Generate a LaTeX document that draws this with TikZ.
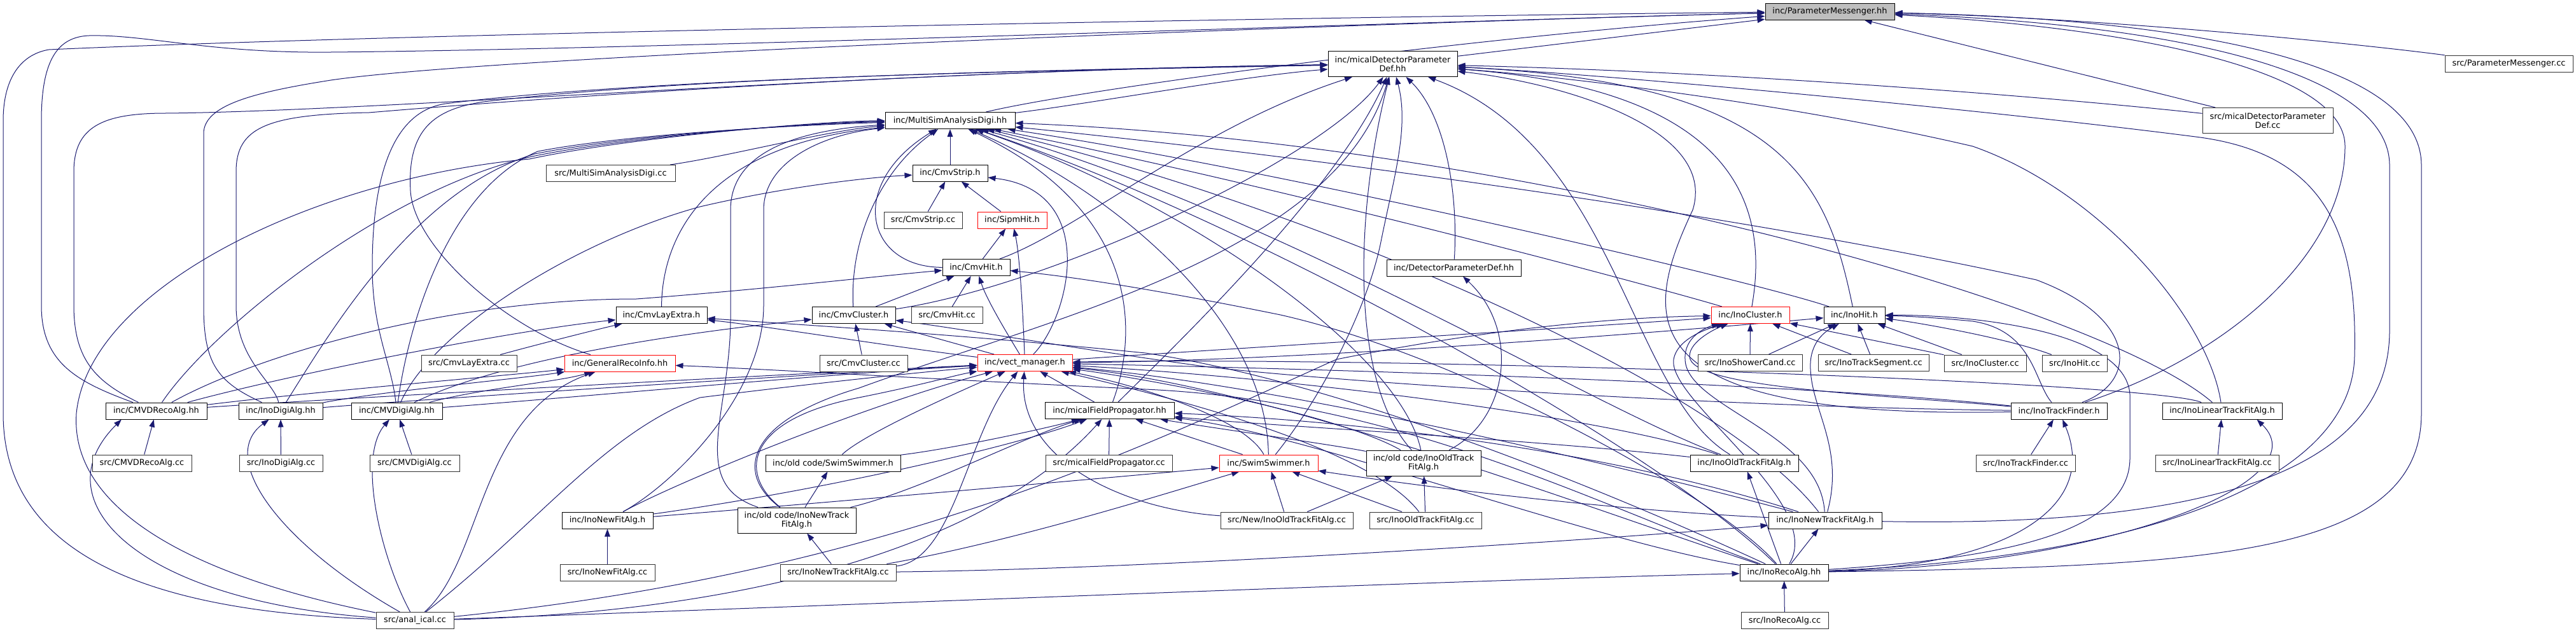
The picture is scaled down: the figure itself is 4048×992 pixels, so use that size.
\documentclass[tikz,border=0pt]{standalone}
\usepackage{fontspec}
\setmainfont{DejaVu Sans}
\usetikzlibrary{arrows.meta}
\definecolor{edgeblue}{RGB}{25,25,112}
\definecolor{srcgray}{RGB}{50,50,50}
\definecolor{pmfill}{RGB}{191,191,191}
\pgfdeclarelayer{bg}
\pgfsetlayers{bg,main}
\tikzset{
  nbox/.style={draw=black, line width=0.75pt, fill=white, inner sep=0pt, minimum height=19.5pt, align=center, font=\fontsize{9.7}{10.8}\selectfont, text=black},
  sbox/.style={nbox, draw=srcgray},
  rbox/.style={nbox, draw=red},
  tall/.style={minimum height=30pt},
  bw/.style={minimum width=#1*0.75pt},
  dep/.style={draw=edgeblue, line width=0.75pt, -{Triangle[length=9pt,width=6.5pt]}},
}
\begin{document}
\begin{tikzpicture}[x=0.75pt,y=-0.75pt]
\useasboundingbox (0,0) rectangle (4048,992);
% ---------------- nodes ----------------
\node[nbox,fill=pmfill,bw=203] (PM) at (2875.5,18) {inc/ParameterMessenger.hh};
\node[nbox,tall,bw=203] (MDPD) at (2188.5,100.5) {inc/micalDetectorParameter\\Def.hh};
\node[sbox,bw=201] (PMcc) at (3942.5,100) {src/ParameterMessenger.cc};
\node[sbox,tall,bw=205] (MDPDcc) at (3563.5,189.5) {src/micalDetectorParameter\\Def.cc};
\node[nbox,bw=204] (MSAD) at (1493,189.5) {inc/MultiSimAnalysisDigi.hh};
\node[sbox,bw=203] (MSADcc) at (959.5,272.5) {src/MultiSimAnalysisDigi.cc};
\node[nbox,bw=118] (CS) at (1493,272) {inc/CmvStrip.h};
\node[sbox,bw=123] (CScc) at (1450.5,346) {src/CmvStrip.cc};
\node[rbox,bw=109] (SH) at (1590.5,346) {inc/SipmHit.h};
\node[nbox,bw=106] (CH) at (1534,420.5) {inc/CmvHit.h};
\node[nbox,bw=211] (DPD) at (2284.5,421) {inc/DetectorParameterDef.hh};
\node[nbox,bw=143] (CLE) at (1039.5,495.5) {inc/CmvLayExtra.h};
\node[nbox,bw=131] (CC) at (1341.5,495.5) {inc/CmvCluster.h};
\node[sbox,bw=112] (CHcc) at (1488,495.5) {src/CmvHit.cc};
\node[rbox,bw=123] (IC) at (2750.5,495.5) {inc/InoCluster.h};
\node[nbox,bw=96] (IH) at (2914,495.5) {inc/InoHit.h};
\node[sbox,bw=150] (CLEcc) at (737,571) {src/CmvLayExtra.cc};
\node[rbox,bw=174] (GRI) at (974,571) {inc/GeneralRecoInfo.hh};
\node[sbox,bw=138] (CCcc) at (1357,571) {src/CmvCluster.cc};
\node[rbox,bw=149] (VM) at (1610.5,570.5) {inc/vect\_manager.h};
\node[sbox,bw=164] (ISC) at (2750,570.5) {src/InoShowerCand.cc};
\node[sbox,bw=174] (ITS) at (2944,570.5) {src/InoTrackSegment.cc};
\node[sbox,bw=129] (ICcc) at (3119.5,571) {src/InoCluster.cc};
\node[sbox,bw=102] (IHcc) at (3260,571) {src/InoHit.cc};
\node[nbox,bw=159] (CMVDR) at (245.5,646) {inc/CMVDRecoAlg.hh};
\node[nbox,bw=132] (IDA) at (441,646) {inc/InoDigiAlg.hh};
\node[nbox,bw=143] (CMVDG) at (623.5,646) {inc/CMVDigiAlg.hh};
\node[nbox,bw=203] (MFP) at (1743.5,645.5) {inc/micalFieldPropagator.hh};
\node[nbox,bw=151] (ITF) at (3235.5,646) {inc/InoTrackFinder.h};
\node[nbox,bw=188] (ILTF) at (3492,646) {inc/InoLinearTrackFitAlg.h};
\node[sbox,bw=156] (CMVDRcc) at (223,728) {src/CMVDRecoAlg.cc};
\node[sbox,bw=131] (IDAcc) at (441.5,728) {src/InoDigiAlg.cc};
\node[sbox,bw=141] (CMVDGcc) at (651.5,728) {src/CMVDigiAlg.cc};
\node[nbox,bw=212] (OSS) at (1309,728) {inc/old code/SwimSwimmer.h};
\node[sbox,bw=199] (MFPcc) at (1742.5,728) {src/micalFieldPropagator.cc};
\node[rbox,bw=155] (SS) at (1993.5,728) {inc/SwimSwimmer.h};
\node[nbox,tall,bw=180] (OIOT) at (2237,728) {inc/old code/InoOldTrack\\FitAlg.h};
\node[nbox,bw=170] (IOT) at (2741,728) {inc/InoOldTrackFitAlg.h};
\node[sbox,bw=156] (ITFcc) at (3183,728) {src/InoTrackFinder.cc};
\node[sbox,bw=194] (ILTFcc) at (3484,728) {src/InoLinearTrackFitAlg.cc};
\node[nbox,bw=143] (INF) at (954.5,818) {inc/InoNewFitAlg.h};
\node[nbox,tall,bw=186] (OINT) at (1252,818) {inc/old code/InoNewTrack\\FitAlg.h};
\node[sbox,bw=208] (NIOTcc) at (2022,818) {src/New/InoOldTrackFitAlg.cc};
\node[sbox,bw=176] (IOTcc) at (2240,818) {src/InoOldTrackFitAlg.cc};
\node[nbox,bw=178] (INT) at (2868,818) {inc/InoNewTrackFitAlg.h};
\node[sbox,bw=149] (INFcc) at (954.5,900) {src/InoNewFitAlg.cc};
\node[sbox,bw=182] (INTcc) at (1317,900) {src/InoNewTrackFitAlg.cc};
\node[nbox,bw=139] (IRA) at (2803.5,900) {inc/InoRecoAlg.hh};
\node[sbox,bw=122] (AIcc) at (652,975.5) {src/anal\_ical.cc};
\node[sbox,bw=137] (IRAcc) at (2804.5,975.5) {src/InoRecoAlg.cc};
% ---------------- edges ----------------
\begin{pgfonlayer}{bg}
\fill[white] (0,0) rectangle (4048,992);
% ParameterMessenger.hh
\draw[dep] (MDPD) -- (PM);
\draw[dep] (MSAD) .. controls (1700,140) and (2300,60) .. (PM);
\draw[dep] (AIcc) .. controls (250,962) and (5,880) .. (5,650) -- (5,190) .. controls (5,120) and (35,85) .. (77,78) .. controls (700,50) and (2200,25) .. (PM);
\draw[dep] (CMVDR) .. controls (120,600) and (65,570) .. (65,480) -- (65,190) .. controls (65,95) and (90,58) .. (140,56) .. controls (230,54) and (330,84) .. (520,82) .. controls (1000,78) and (2200,35) .. (PM);
\draw[dep] (IDA) .. controls (340,600) and (320,570) .. (320,480) -- (320,210) .. controls (320,165) and (400,145) .. (520,126) .. controls (800,85) and (2200,35) .. (PM);
\draw[dep] (MDPDcc) -- (PM);
\draw[dep] (PMcc) .. controls (3700,68) and (3300,28) .. (PM);
\draw[dep] (ITF) .. controls (3500,560) and (3685,400) .. (3685,230) .. controls (3685,100) and (3300,40) .. (PM);
\draw[dep] (INT) .. controls (3500,830) and (3755,730) .. (3755,520) -- (3755,260) .. controls (3755,120) and (3450,40) .. (PM);
\draw[dep] (IRA) .. controls (3450,890) and (3805,880) .. (3805,650) -- (3805,260) .. controls (3805,100) and (3450,30) .. (PM);
% micalDetectorParameterDef.hh
\draw[dep] (MSAD) .. controls (1700,165) and (1950,120) .. (MDPD);
\draw[dep] (CMVDR) .. controls (150,600) and (116,565) .. (116,480) -- (116,270) .. controls (116,200) and (160,178) .. (260,178) .. controls (600,175) and (1400,110) .. (MDPD);
\draw[dep] (IDA) .. controls (430,600) and (371,565) .. (371,480) -- (371,270) .. controls (371,200) and (420,180) .. (580,177) .. controls (900,150) and (1500,110) .. (MDPD);
\draw[dep] (CMVDG) .. controls (615,570) and (585,520) .. (585,420) .. controls (585,270) and (620,175) .. (700,163) .. controls (1000,125) and (1600,110) .. (MDPD);
\draw[dep] (GRI) .. controls (800,520) and (650,390) .. (645,300) .. controls (640,205) and (680,172) .. (760,160) .. controls (1100,120) and (1600,112) .. (MDPD);
\draw[dep] (CH) .. controls (1700,360) and (1880,200) .. (MDPD);
\draw[dep] (CC) .. controls (1650,450) and (2080,250) .. (MDPD);
\draw[dep] (DPD) .. controls (2292,300) and (2270,180) .. (MDPD);
\draw[dep] (IC) .. controls (2785,300) and (2700,140) .. (MDPD);
\draw[dep] (IH) .. controls (2870,280) and (2800,130) .. (MDPD);
\draw[dep] (IOT) .. controls (2560,620) and (2540,230) .. (MDPD);
\draw[dep] (ITF) .. controls (2550,660) and (2580,500) .. (2660,330) .. controls (2700,200) and (2450,130) .. (MDPD);
\draw[dep] (ILTF) .. controls (3470,500) and (3300,300) .. (3100,230) .. controls (2800,160) and (2450,120) .. (MDPD);
\draw[dep] (IRA) .. controls (3300,880) and (3695,780) .. (3700,560) .. controls (3705,360) and (3650,240) .. (3450,215) .. controls (3100,170) and (2500,115) .. (MDPD);
\draw[dep] (MDPDcc) .. controls (3200,150) and (2700,112) .. (MDPD);
\draw[dep] (SS) .. controls (2080,620) and (2150,480) .. (2170,380) .. controls (2190,280) and (2215,200) .. (MDPD);
\draw[dep] (OIOT) .. controls (2120,600) and (2130,330) .. (MDPD);
\draw[dep] (MFP) .. controls (1850,540) and (2100,300) .. (MDPD);
\draw[dep] (OINT) .. controls (1150,740) and (1180,660) .. (1350,610) .. controls (1650,500) and (2100,400) .. (MDPD);
% MultiSimAnalysisDigi.hh
\draw[dep] (CS) -- (MSAD);
\draw[dep] (CH) .. controls (1360,420) and (1330,290) .. (MSAD);
\draw[dep] (CC) .. controls (1335,380) and (1380,270) .. (MSAD);
\draw[dep] (CLE) .. controls (1040,380) and (1100,230) .. (MSAD);
\draw[dep] (MSADcc) .. controls (1150,245) and (1300,205) .. (MSAD);
\draw[dep] (CMVDR) .. controls (330,520) and (600,300) .. (836,246) .. controls (1000,212) and (1300,192) .. (MSAD);
\draw[dep] (IDA) .. controls (520,520) and (650,300) .. (840,242) .. controls (1000,210) and (1300,193) .. (MSAD);
\draw[dep] (CMVDG) .. controls (640,520) and (700,300) .. (845,238) .. controls (1000,208) and (1300,195) .. (MSAD);
\draw[dep] (AIcc) .. controls (300,905) and (110,800) .. (120,650) .. controls (140,450) and (500,280) .. (832,250) .. controls (1000,214) and (1300,190) .. (MSAD);
\draw[dep] (MFP) .. controls (1790,520) and (1790,330) .. (MSAD);
\draw[dep] (OINT) .. controls (1080,760) and (1148,650) .. (1148,500) -- (1148,330) .. controls (1148,240) and (1250,205) .. (MSAD);
\draw[dep] (INF) .. controls (1060,760) and (1200,620) .. (1200,480) -- (1200,330) .. controls (1200,255) and (1290,212) .. (MSAD);
\draw[dep] (IC) .. controls (2600,450) and (2000,290) .. (MSAD);
\draw[dep] (IH) .. controls (2750,440) and (2000,265) .. (MSAD);
\draw[dep] (ITF) .. controls (3360,600) and (3360,500) .. (3200,440) .. controls (2700,330) and (2000,240) .. (MSAD);
\draw[dep] (ILTF) .. controls (3300,480) and (2400,225) .. (MSAD);
\draw[dep] (IOT) .. controls (2500,640) and (2000,330) .. (MSAD);
\draw[dep] (INT) .. controls (2700,600) and (2050,320) .. (MSAD);
\draw[dep] (IRA) .. controls (2600,700) and (1950,340) .. (MSAD);
\draw[dep] (SS) .. controls (1990,500) and (1750,300) .. (MSAD);
\draw[dep] (OIOT) .. controls (2200,550) and (1850,310) .. (MSAD);
% CmvStrip.h
\draw[dep] (CScc) -- (CS);
\draw[dep] (SH) -- (CS);
\draw[dep] (VM) .. controls (1680,500) and (1730,300) .. (CS);
\draw[dep] (CMVDG) .. controls (680,520) and (900,380) .. (1100,325) .. controls (1250,290) and (1380,278) .. (CS);
% SipmHit.h
\draw[dep] (CH) -- (SH);
\draw[dep] (VM) .. controls (1607,480) and (1602,400) .. (SH);
% CmvHit.h
\draw[dep] (CC) -- (CH);
\draw[dep] (CHcc) -- (CH);
\draw[dep] (VM) .. controls (1580,520) and (1550,470) .. (CH);
\draw[dep] (CMVDR) .. controls (400,560) and (700,470) .. (1000,470) .. controls (1200,455) and (1400,432) .. (CH);
\draw[dep] (IRA) .. controls (2700,780) and (2300,560) .. (2012,495) .. controls (1850,462) and (1700,436) .. (CH);
% CmvLayExtra.h
\draw[dep] (CLEcc) .. controls (850,540) and (950,515) .. (CLE);
\draw[dep] (CMVDR) .. controls (450,590) and (800,520) .. (CLE);
\draw[dep] (VM) .. controls (1400,545) and (1200,512) .. (CLE);
\draw[dep] (IRA) .. controls (2500,760) and (2100,600) .. (1800,555) .. controls (1500,525) and (1250,510) .. (CLE);
% CmvCluster.h
\draw[dep] (CCcc) -- (CC);
\draw[dep] (VM) -- (CC);
\draw[dep] (CMVDG) .. controls (800,560) and (1100,520) .. (CC);
\draw[dep] (ITF) .. controls (2700,640) and (2100,600) .. (1900,577) .. controls (1720,553) and (1500,515) .. (CC);
% DetectorParameterDef.hh
\draw[dep] (OIOT) .. controls (2370,660) and (2390,520) .. (DPD);
% InoCluster.h
\draw[dep] (ISC) -- (IC);
\draw[dep] (ITS) -- (IC);
\draw[dep] (ICcc) -- (IC);
\draw[dep] (VM) .. controls (1900,550) and (2400,520) .. (IC);
\draw[dep] (INT) .. controls (2860,680) and (2650,640) .. (2648,565) .. controls (2646,530) and (2680,515) .. (IC);
\draw[dep] (IRA) .. controls (2870,790) and (2620,630) .. (2630,565) .. controls (2636,530) and (2690,515) .. (IC);
\draw[dep] (AIcc) .. controls (1400,900) and (1800,700) .. (2100,565) .. controls (2400,505) and (2600,498) .. (IC);
\draw[dep] (ITF) .. controls (2950,620) and (2655,610) .. (2655,560) .. controls (2655,535) and (2700,515) .. (IC);
% InoHit.h
\draw[dep] (ISC) -- (IH);
\draw[dep] (ITS) -- (IH);
\draw[dep] (IHcc) .. controls (3150,530) and (3000,505) .. (IH);
\draw[dep] (ICcc) -- (IH);
\draw[dep] (VM) .. controls (2000,568) and (2500,532) .. (IH);
\draw[dep] (ITF) .. controls (3196,600) and (3196,520) .. (3100,505) .. controls (3050,500) and (3000,497) .. (IH);
\draw[dep] (IRA) .. controls (3100,880) and (3347,850) .. (3347,720) -- (3347,620) .. controls (3340,520) and (3100,495) .. (IH);
\draw[dep] (INT) .. controls (2900,700) and (2842,640) .. (2845,570) .. controls (2847,535) and (2870,520) .. (IH);
% GeneralRecoInfo.hh
\draw[dep] (CMVDR) .. controls (500,615) and (800,590) .. (GRI);
\draw[dep] (IDA) .. controls (600,615) and (820,595) .. (GRI);
\draw[dep] (CMVDG) .. controls (760,610) and (880,600) .. (GRI);
\draw[dep] (AIcc) .. controls (760,880) and (750,650) .. (GRI);
\draw[dep] (IRA) .. controls (2500,790) and (2200,630) .. (1800,612) .. controls (1500,598) and (1200,580) .. (GRI);
% vect_manager.h
\draw[dep] (CMVDR) .. controls (500,628) and (1200,590) .. (VM);
\draw[dep] (IDA) .. controls (700,625) and (1250,590) .. (VM);
\draw[dep] (CMVDG) .. controls (900,625) and (1300,588) .. (VM);
\draw[dep] (OSS) .. controls (1360,680) and (1520,610) .. (VM);
\draw[dep] (OINT) .. controls (1160,745) and (1170,660) .. (1350,625) .. controls (1450,605) and (1500,590) .. (VM);
\draw[dep] (INF) .. controls (1060,760) and (1350,640) .. (VM);
\draw[dep] (AIcc) .. controls (850,820) and (950,680) .. (1100,625) .. controls (1300,600) and (1450,585) .. (VM);
\draw[dep] (MFP) -- (VM);
\draw[dep] (SS) .. controls (1950,650) and (1760,600) .. (VM);
\draw[dep] (IOT) .. controls (2500,650) and (2000,592) .. (VM);
\draw[dep] (OIOT) .. controls (2100,650) and (1800,595) .. (VM);
\draw[dep] (NIOTcc) .. controls (1760,800) and (1600,720) .. (VM);
\draw[dep] (ITF) .. controls (2800,600) and (2000,578) .. (VM);
\draw[dep] (ILTF) .. controls (3380,600) and (2200,560) .. (VM);
\draw[dep] (IRA) .. controls (2500,800) and (2000,610) .. (VM);
\draw[dep] (INT) .. controls (2500,720) and (2000,605) .. (VM);
\draw[dep] (IOTcc) .. controls (2150,700) and (1820,620) .. (VM);
\draw[dep] (INTcc) .. controls (1500,880) and (1520,680) .. (VM);
% micalFieldPropagator.hh
\draw[dep] (MFPcc) -- (MFP);
\draw[dep] (SS) -- (MFP);
\draw[dep] (OSS) .. controls (1500,705) and (1650,672) .. (MFP);
\draw[dep] (OINT) .. controls (1450,770) and (1600,690) .. (MFP);
\draw[dep] (INF) .. controls (1300,770) and (1600,700) .. (MFP);
\draw[dep] (AIcc) .. controls (1200,962) and (1560,850) .. (MFP);
\draw[dep] (OIOT) .. controls (2100,700) and (1900,672) .. (MFP);
\draw[dep] (IOT) .. controls (2400,690) and (2000,670) .. (MFP);
\draw[dep] (INT) .. controls (2500,700) and (2100,660) .. (MFP);
\draw[dep] (IRA) .. controls (2500,850) and (2050,680) .. (MFP);
% InoTrackFinder.h / InoLinearTrackFitAlg.h
\draw[dep] (ITFcc) -- (ITF);
\draw[dep] (IRA) .. controls (3150,890) and (3300,800) .. (ITF);
\draw[dep] (ILTFcc) -- (ILTF);
\draw[dep] (IRA) .. controls (3300,890) and (3650,760) .. ([xshift=-30pt]ILTF.south east);
% SwimSwimmer.h
\draw[dep] (NIOTcc) -- (SS);
\draw[dep] (IOTcc) -- (SS);
\draw[dep] (INT) .. controls (2500,800) and (2200,760) .. (SS);
\draw[dep] (INTcc) .. controls (1600,850) and (1850,770) .. (SS);
\draw[dep] (INF) .. controls (1300,790) and (1700,755) .. (SS);
% old code headers and the rest
\draw[dep] (OINT) -- (OSS);
\draw[dep] (IOTcc) -- (OIOT);
\draw[dep] (NIOTcc) -- (OIOT);
\draw[dep] (IRA) -- (IOT);
\draw[dep] (INFcc) -- (INF);
\draw[dep] (INTcc) -- (OINT);
\draw[dep] (IRA) -- (INT);
\draw[dep] (INTcc) .. controls (1800,895) and (2500,850) .. (INT);
\draw[dep] (IRAcc) -- (IRA);
\draw[dep] (AIcc) .. controls (1500,945) and (2300,912) .. (IRA);
\draw[dep] (CMVDRcc) -- (CMVDR);
\draw[dep] (IDAcc) -- (IDA);
\draw[dep] (CMVDGcc) -- (CMVDG);
\draw[dep] (AIcc) .. controls (220,945) and (60,790) .. ([xshift=-41pt]CMVDR.south);
\draw[dep] (AIcc) .. controls (440,855) and (340,720) .. (IDA);
\draw[dep] (AIcc) .. controls (600,880) and (560,720) .. (CMVDG);
\end{pgfonlayer}
\end{tikzpicture}
\end{document}
